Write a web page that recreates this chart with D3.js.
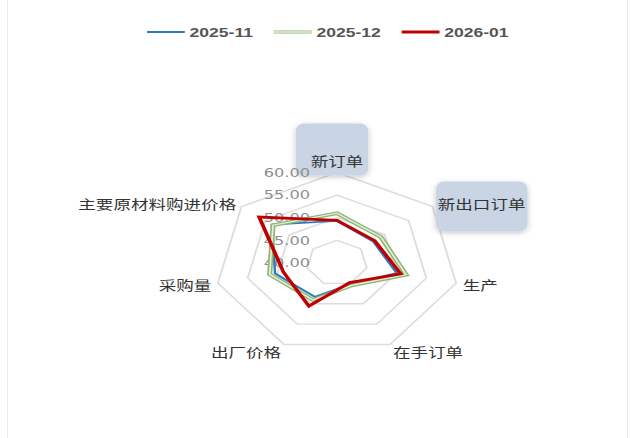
<!DOCTYPE html>
<html>
<head>
<meta charset="utf-8">
<script src="https://cdn.jsdelivr.net/npm/d3@7"></script>
<style>
  html, body { margin: 0; padding: 0; background: #fff; }
  svg { display: block; }
</style>
</head>
<body>
<svg id="chart" width="630" height="438"></svg>
<script>
// ---- data ----
const indicators = ["新订单", "新出口订单", "生产", "在手订单", "出厂价格", "采购量", "主要原材料购进价格"];
const seriesNames = ["2025-11", "2025-12", "2026-01"];
const values202511 = [49.3, 47.6, 50.0, 45.2, 48.3, 50.4, 53.6];
const values202512 = [51.0, 49.2, 51.6, 45.5, 49.1, 51.3, 53.4];
const values202601 = [49.4, 47.9, 50.7, 44.8, 50.6, 49.0, 56.3];
const tickValues = [40, 45, 50, 55, 60];
const tickLabels = ["40.00", "45.00", "50.00", "55.00", "60.00"];
const highlighted = ["新订单", "新出口订单"];

// ---- layout ----
const sx = 1.35;               // horizontal stretch of the original picture
const W = 630, H = 438;
const cx = 337 / sx, cy = 263, R = 90.5;
const N = indicators.length;
const cjk = "'Noto Sans CJK SC', 'Noto Sans', sans-serif";

const svg = d3.select("#chart");
svg.append("rect").attr("x", 7.5).attr("y", -2).attr("width", 620).attr("height", 445)
  .attr("fill", "none").attr("stroke", "#ececec").attr("stroke-width", 1);

const defs = svg.append("defs");
const f = defs.append("filter").attr("id", "shadow").attr("x", "-30%").attr("y", "-30%")
  .attr("width", "160%").attr("height", "160%");
f.append("feDropShadow").attr("dx", 0).attr("dy", 1.5).attr("stdDeviation", 2.5)
  .attr("flood-color", "#000").attr("flood-opacity", 0.22);

const g = svg.append("g").attr("transform", `scale(${sx},1)`);

const r = d3.scaleLinear().domain([40, 60]).range([0, R]);
const ang = d3.scaleLinear().domain([0, N]).range([0, 2 * Math.PI]);

const radial = d3.lineRadial()
  .angle((d, i) => ang(i))
  .radius(d => r(d))
  .curve(d3.curveLinearClosed);

const plot = g.append("g").attr("transform", `translate(${cx},${cy})`);

// rings
plot.append("g").selectAll("path")
  .data(tickValues.slice(1))
  .join("path")
  .attr("d", t => radial(indicators.map(() => t)))
  .attr("fill", "none")
  .attr("stroke", "#dddddd")
  .attr("stroke-width", 1.4);

// indicator names (with boxes for highlighted)
const nameG = plot.append("g");
const gap = 5;
indicators.forEach((name, i) => {
  const a = ang(i);
  const s = Math.sin(a), c = Math.cos(a);
  const x = (R + gap) * s, y = -(R + gap) * c;
  const anchor = Math.abs(s) < 0.01 ? "middle" : (s > 0 ? "start" : "end");
  let ty = y;
  if (c > 0.9) ty = y - 7;          // top label sits above
  else if (c < -0.5) ty = y + 2;   // bottom labels
  const item = nameG.append("g");
  const txt = item.append("text")
    .attr("x", x).attr("y", ty)
    .attr("text-anchor", anchor)
    .attr("dominant-baseline", "central")
    .attr("font-family", cjk)
    .attr("font-size", 13)
    .attr("fill", "#333")
    .text(name);
  if (highlighted.includes(name)) {
    const len = txt.node().getComputedTextLength();
    const left = anchor === "middle" ? x - len / 2 : (anchor === "start" ? x : x - len);
    const right = left + len;
    // paddings in picture pixels: [top, right, bottom, left]
    const pad = i === 0 ? [37, 5, 15, 15] : [22, 2, 28, 2];
    item.insert("rect", "text")
      .attr("x", left - pad[3] / sx)
      .attr("y", ty - pad[0])
      .attr("width", len + (pad[1] + pad[3]) / sx)
      .attr("height", pad[0] + pad[2])
      .attr("rx", 8 / sx).attr("ry", 8)
      .attr("fill", "#c9d5e5")
      .attr("filter", "url(#shadow)");
  }
});

// axis tick labels along the top axis
plot.append("g").selectAll("text")
  .data(tickValues)
  .join("text")
  .attr("x", -20)
  .attr("y", d => -r(d))
  .attr("text-anchor", "end")
  .attr("dominant-baseline", "central")
  .attr("font-family", "'DejaVu Sans', sans-serif")
  .attr("font-size", 12)
  .attr("fill", "#8e8e8e")
  .text((d, i) => tickLabels[i]);

// series
const seriesData = [values202511, values202512, values202601];
const seriesStyles = [
  [{ stroke: "#2b7bbb", width: 1.8 }],
  [{ stroke: "#8fb474", width: 3.8 }, { stroke: "#e4f0d8", width: 1.3 }],
  [{ stroke: "#c00000", width: 2.8 }]
];
const sg = plot.append("g");
seriesData.forEach((vals, si) => {
  seriesStyles[si].forEach(st => {
    sg.append("path")
      .attr("d", radial(vals))
      .attr("fill", "none")
      .attr("stroke", st.stroke)
      .attr("stroke-width", st.width)
      .attr("stroke-linejoin", "miter");
  });
});

// legend
const legend = g.append("g").attr("transform", `translate(0,32)`);
let lx = 147 / sx;
seriesNames.forEach((nm, si) => {
  const it = legend.append("g").attr("transform", `translate(${lx},0)`);
  seriesStyles[si].forEach(st => {
    it.append("line").attr("x1", 0).attr("x2", 28).attr("y1", 0).attr("y2", 0)
      .attr("stroke", st.stroke).attr("stroke-width", Math.min(st.width, 3.2));
  });
  const t = it.append("text").attr("x", 31.5).attr("y", 0)
    .attr("dominant-baseline", "central")
    .attr("font-family", "'Liberation Sans', Arial, sans-serif")
    .attr("font-size", 13).attr("font-weight", "bold")
    .attr("fill", "#555")
    .text(nm);
  lx += 31.5 + t.node().getComputedTextLength() + 15.5;
});
</script>
</body>
</html>
